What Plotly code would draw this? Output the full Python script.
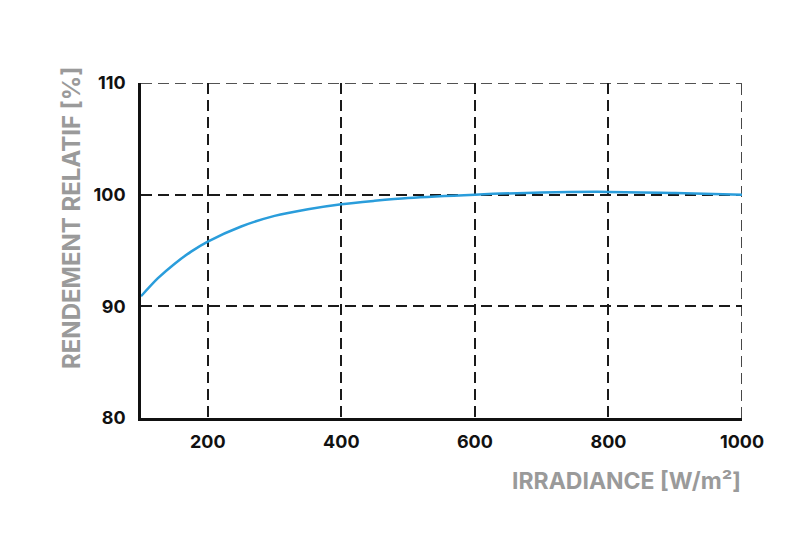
import plotly.graph_objects as go

irradiance = [100, 125, 150, 175, 200, 250, 300, 350, 400, 450, 500, 600, 700, 800, 900, 1000]
rendement = [90.9, 92.5, 93.8, 94.9, 95.8, 97.15, 98.1, 98.7, 99.15, 99.45, 99.7, 100.0, 100.2, 100.25, 100.15, 100.0]

x_ticks = [200, 400, 600, 800, 1000]
y_ticks = [80, 90, 100, 110]

DASH = "11px,6px"
GRID_COLOR = "#1a1a1a"

fig = go.Figure()
fig.add_trace(go.Scatter(
    x=irradiance, y=rendement, mode="lines",
    line=dict(color="#2a9ddb", width=2.5, shape="spline", smoothing=0.8),
    hoverinfo="skip", showlegend=False,
))

tick_font = dict(family="Inter, DejaVu Sans, sans-serif", size=18, color="#111111", weight="bold")

fig.update_xaxes(
    range=[100, 1000], tickvals=x_ticks, ticktext=[str(v) for v in x_ticks],
    showgrid=True, gridcolor=GRID_COLOR, griddash=DASH, gridwidth=1.6,
    showline=True, linecolor="#111111", linewidth=2.5, zeroline=False,
    ticks="", tickfont=tick_font, ticklabelstandoff=6,
)
fig.update_yaxes(
    range=[80, 110], tickvals=y_ticks, ticktext=[str(v) for v in y_ticks],
    showgrid=True, gridcolor=GRID_COLOR, griddash=DASH, gridwidth=1.6,
    showline=True, linecolor="#111111", linewidth=2.5, zeroline=False,
    ticks="", tickfont=tick_font, ticklabelstandoff=9,
)

# dashed top and right borders
fig.add_shape(type="line", xref="x", yref="y", x0=100, x1=1000, y0=110, y1=110,
              line=dict(color=GRID_COLOR, width=1.6, dash=DASH), layer="below")
fig.add_shape(type="line", xref="x", yref="y", x0=1000, x1=1000, y0=80, y1=110,
              line=dict(color=GRID_COLOR, width=1.6, dash=DASH), layer="below")

fig.add_annotation(
    text="RENDEMENT RELATIF [%]", textangle=-90,
    font=dict(family="Inter, DejaVu Sans, sans-serif", size=24, color="#9a9a9a", weight="bold"),
    xref="paper", yref="paper", x=-0.1165, y=0.597, xanchor="center", yanchor="middle",
    showarrow=False,
)
fig.add_annotation(
    text="IRRADIANCE [W/m²]",
    font=dict(family="Inter, DejaVu Sans, sans-serif", size=23, color="#9a9a9a", weight="bold"),
    xref="paper", yref="paper", x=1.0017, y=-0.188, xanchor="right", yanchor="middle",
    showarrow=False,
)

fig.update_layout(
    width=800, height=548,
    margin=dict(l=133, r=66, t=75, b=138),
    plot_bgcolor="white", paper_bgcolor="white",
)

fig.write_html("out.html")
